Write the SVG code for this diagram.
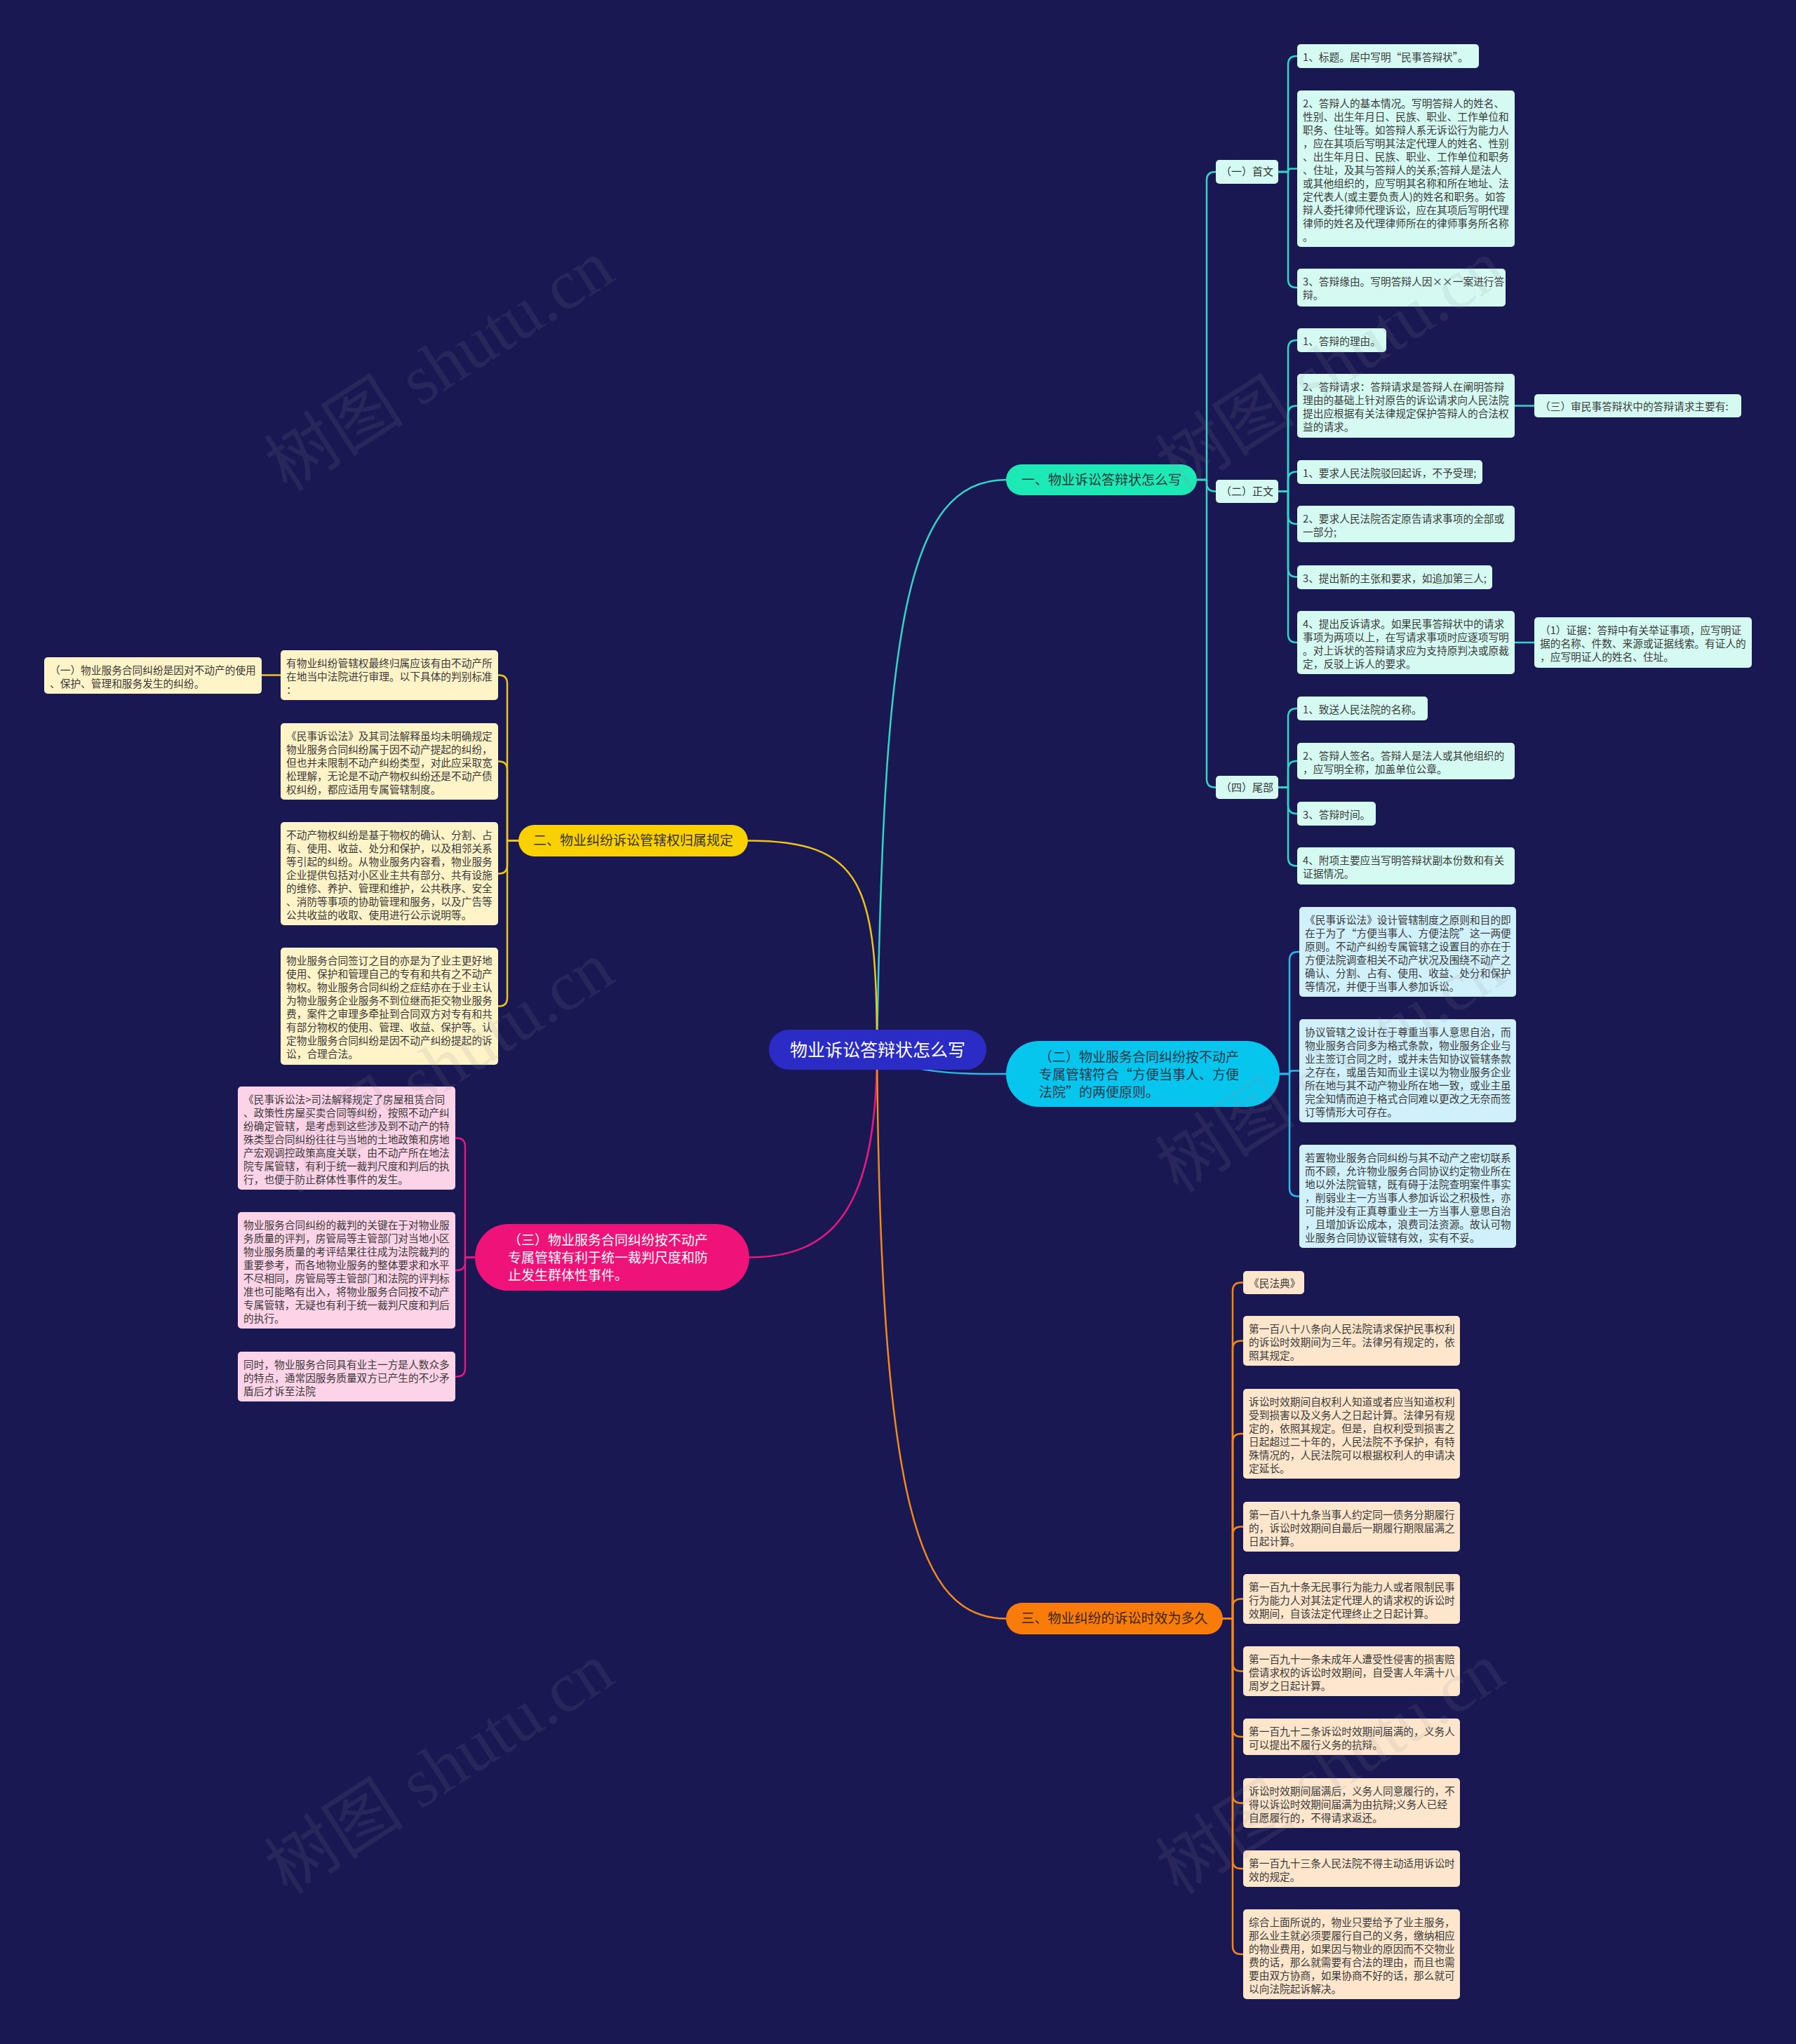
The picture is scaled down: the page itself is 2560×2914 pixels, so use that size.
<svg xmlns="http://www.w3.org/2000/svg" width="2560" height="2914" viewBox="0 0 2560 2914">
<style>
.t{font-family:"Noto Sans CJK SC","Noto Sans",sans-serif;font-size:14.7px;fill:#3a3a3a}
.sn{font-family:"Noto Sans CJK SC","Noto Sans",sans-serif;font-size:15px;fill:#333;text-anchor:middle}
.mn{font-family:"Noto Sans CJK SC","Noto Sans",sans-serif;font-size:19px}
.lt{fill:#d4faf1}.lc{fill:#d0f1fb}.ly{fill:#fff3c8}.lp{fill:#fdd3e7}.lo{fill:#fde6cc}
.k{fill:none;stroke-width:2.5;stroke-linecap:round;stroke-linejoin:round}
.kt{stroke:#35d4c8}.kc{stroke:#2cb6ea}.ky{stroke:#ecc41c}.kp{stroke:#e2197f}.ko{stroke:#f0891e}
.wm{font-family:"Liberation Serif","Noto Sans CJK SC",serif;font-size:100px;fill:#8a8a9a;opacity:0.12;text-anchor:middle}
</style>
<rect x="0" y="0" width="2560" height="2914" fill="#1a1852"/>
<g id="connectors">
<path class="k kt" stroke-width="3" d="M1250,1496 C1260,900 1290,684 1434,684"/>
<path class="k ky" stroke-width="3" d="M1250,1496 C1250,1260 1230,1198.5 1066,1198.5"/>
<path class="k kc" stroke-width="3" d="M1250,1496 C1290,1531 1360,1531 1434,1531"/>
<path class="k kp" stroke-width="3" d="M1250,1496 C1250,1720 1190,1792.5 1068,1792.5"/>
<path class="k ko" stroke-width="3" d="M1250,1496 C1255,2150 1310,2307.5 1434,2307.5"/>
<path class="k kt" d="M1706,684 H1720 V257 Q1720,245 1732,245 H1733"/>
<path class="k kt" d="M1706,684 H1720 V688.5 Q1720,700.5 1732,700.5 H1733"/>
<path class="k kt" d="M1706,684 H1720 V1110.5 Q1720,1122.5 1732,1122.5 H1733"/>
<path class="k kt" d="M1822,245 H1836 V92 Q1836,80 1848,80 H1849"/>
<path class="k kt" d="M1822,245 H1836 Q1836,240.5 1840.5,240.5 H1849"/>
<path class="k kt" d="M1822,245 H1836 V398 Q1836,410 1848,410 H1849"/>
<path class="k kt" d="M1822,700.5 H1836 V497 Q1836,485 1848,485 H1849"/>
<path class="k kt" d="M1822,700.5 H1836 V590.5 Q1836,578.5 1848,578.5 H1849"/>
<path class="k kt" d="M1822,700.5 H1836 V684.5 Q1836,672.5 1848,672.5 H1849"/>
<path class="k kt" d="M1822,700.5 H1836 V735 Q1836,747 1848,747 H1849"/>
<path class="k kt" d="M1822,700.5 H1836 V810.5 Q1836,822.5 1848,822.5 H1849"/>
<path class="k kt" d="M1822,700.5 H1836 V904 Q1836,916 1848,916 H1849"/>
<path class="k kt" d="M1822,1122.5 H1836 V1022 Q1836,1010 1848,1010 H1849"/>
<path class="k kt" d="M1822,1122.5 H1836 V1097 Q1836,1085 1848,1085 H1849"/>
<path class="k kt" d="M1822,1122.5 H1836 V1148 Q1836,1160 1848,1160 H1849"/>
<path class="k kt" d="M1822,1122.5 H1836 V1222.5 Q1836,1234.5 1848,1234.5 H1849"/>
<path class="k kt" d="M2159,578.5 H2187"/>
<path class="k kt" d="M2159,916 H2187"/>
<path class="k kc" d="M1824,1531 H1838 V1369 Q1838,1357 1850,1357 H1852"/>
<path class="k kc" d="M1824,1531 H1838 Q1838,1526.5 1842.5,1526.5 H1852"/>
<path class="k kc" d="M1824,1531 H1838 V1693.5 Q1838,1705.5 1850,1705.5 H1852"/>
<path class="k ky" d="M739,1198.5 H723 V974.5 Q723,962.5 711,962.5 H710"/>
<path class="k ky" d="M739,1198.5 H723 V1097.5 Q723,1085.5 711,1085.5 H710"/>
<path class="k ky" d="M739,1198.5 H723 V1233.5 Q723,1245.5 711,1245.5 H710"/>
<path class="k ky" d="M739,1198.5 H723 V1422.5 Q723,1434.5 711,1434.5 H710"/>
<path class="k ky" d="M400,962.5 H373"/>
<path class="k kp" d="M677,1792.5 H663 V1634.5 Q663,1622.5 651,1622.5 H649"/>
<path class="k kp" d="M677,1792.5 H663 V1799 Q663,1811 651,1811 H649"/>
<path class="k kp" d="M677,1792.5 H663 V1950.5 Q663,1962.5 651,1962.5 H649"/>
<path class="k ko" d="M1743,2307.5 H1757 V1840.5 Q1757,1828.5 1769,1828.5 H1772"/>
<path class="k ko" d="M1743,2307.5 H1757 V1923.5 Q1757,1911.5 1769,1911.5 H1772"/>
<path class="k ko" d="M1743,2307.5 H1757 V2056 Q1757,2044 1769,2044 H1772"/>
<path class="k ko" d="M1743,2307.5 H1757 V2188.5 Q1757,2176.5 1769,2176.5 H1772"/>
<path class="k ko" d="M1743,2307.5 H1757 V2291.5 Q1757,2279.5 1769,2279.5 H1772"/>
<path class="k ko" d="M1743,2307.5 H1757 V2370.5 Q1757,2382.5 1769,2382.5 H1772"/>
<path class="k ko" d="M1743,2307.5 H1757 V2464 Q1757,2476 1769,2476 H1772"/>
<path class="k ko" d="M1743,2307.5 H1757 V2558.5 Q1757,2570.5 1769,2570.5 H1772"/>
<path class="k ko" d="M1743,2307.5 H1757 V2652 Q1757,2664 1769,2664 H1772"/>
<path class="k ko" d="M1743,2307.5 H1757 V2774 Q1757,2786 1769,2786 H1772"/>
</g>

<g id="center"><rect x="1096" y="1468" width="310" height="57" rx="28.5" fill="#2b2bc6"/><text class="mn" x="1251" y="1505.5" font-size="25" fill="#ffffff" text-anchor="middle" style="font-size:25px">物业诉讼答辩状怎么写</text></g>

<g id="b1"><rect x="1434" y="662" width="272" height="44" rx="22" fill="#1de9b6"/><text class="mn" x="1570" y="690.8" fill="#1f3a38" text-anchor="middle">一、物业诉讼答辩状怎么写</text></g>
<g id="b2"><rect x="739" y="1176" width="327" height="45" rx="22.5" fill="#f9d100"/><text class="mn" x="902.5" y="1205.3" fill="#3a3320" text-anchor="middle">二、物业纠纷诉讼管辖权归属规定</text></g>
<g id="b3"><rect x="1434" y="1484" width="390" height="94" rx="47" fill="#06c6ee"/><text class="mn" fill="#24384a"><tspan x="1481" y="1514">（二）物业服务合同纠纷按不动产</tspan><tspan x="1481" y="1539">专属管辖符合“方便当事人、方便</tspan><tspan x="1481" y="1564">法院”的两便原则。</tspan></text></g>
<g id="b4"><rect x="677" y="1745" width="391" height="95" rx="47.5" fill="#ee1279"/><text class="mn" fill="#ffffff"><tspan x="724" y="1775">（三）物业服务合同纠纷按不动产</tspan><tspan x="724" y="1800">专属管辖有利于统一裁判尺度和防</tspan><tspan x="724" y="1825">止发生群体性事件。</tspan></text></g>
<g id="b5"><rect x="1434" y="2285" width="309" height="45" rx="22.5" fill="#f97c0b"/><text class="mn" x="1588.5" y="2314.3" fill="#3a2414" text-anchor="middle">三、物业纠纷的诉讼时效为多久</text></g>

<g id="s1"><rect class="lt" x="1733" y="228" width="89" height="34" rx="5"/><text class="sn" x="1777.5" y="250.4">（一）首文</text></g>
<g id="s2"><rect class="lt" x="1733" y="684" width="89" height="33" rx="5"/><text class="sn" x="1777.5" y="705.9">（二）正文</text></g>
<g id="s3"><rect class="lt" x="1733" y="1106" width="89" height="33" rx="5"/><text class="sn" x="1777.5" y="1127.9">（四）尾部</text></g>

<g id="l1"><rect class="lt" x="1849" y="63" width="259" height="34" rx="5"/><text class="t" x="1857" y="86.5">1、标题。居中写明“民事答辩状”。</text></g>
<g id="l2"><rect class="lt" x="1849" y="129" width="310" height="223" rx="5"/><text class="t"><tspan x="1857" y="152.5">2、答辩人的基本情况。写明答辩人的姓名、</tspan><tspan x="1857" dy="19">性别、出生年月日、民族、职业、工作单位和</tspan><tspan x="1857" dy="19">职务、住址等。如答辩人系无诉讼行为能力人</tspan><tspan x="1857" dy="19">，应在其项后写明其法定代理人的姓名、性别</tspan><tspan x="1857" dy="19">、出生年月日、民族、职业、工作单位和职务</tspan><tspan x="1857" dy="19">、住址，及其与答辩人的关系;答辩人是法人</tspan><tspan x="1857" dy="19">或其他组织的，应写明其名称和所在地址、法</tspan><tspan x="1857" dy="19">定代表人(或主要负责人)的姓名和职务。如答</tspan><tspan x="1857" dy="19">辩人委托律师代理诉讼，应在其项后写明代理</tspan><tspan x="1857" dy="19">律师的姓名及代理律师所在的律师事务所名称</tspan><tspan x="1857" dy="19">。</tspan></text></g>
<g id="l3"><rect class="lt" x="1849" y="383" width="297" height="54" rx="5"/><text class="t"><tspan x="1857" y="406.5">3、答辩缘由。写明答辩人因××一案进行答</tspan><tspan x="1857" dy="19">辩。</tspan></text></g>

<g id="z1"><rect class="lt" x="1849" y="468" width="127" height="34" rx="5"/><text class="t" x="1857" y="491.5">1、答辩的理由。</text></g>
<g id="z2"><rect class="lt" x="1849" y="533" width="310" height="91" rx="5"/><text class="t"><tspan x="1857" y="556.5">2、答辩请求：答辩请求是答辩人在阐明答辩</tspan><tspan x="1857" dy="19">理由的基础上针对原告的诉讼请求向人民法院</tspan><tspan x="1857" dy="19">提出应根据有关法律规定保护答辩人的合法权</tspan><tspan x="1857" dy="19">益的请求。</tspan></text></g>
<g id="z3"><rect class="lt" x="1849" y="656" width="264" height="34" rx="5"/><text class="t" x="1857" y="679.5">1、要求人民法院驳回起诉，不予受理;</text></g>
<g id="z4"><rect class="lt" x="1849" y="721" width="310" height="52" rx="5"/><text class="t"><tspan x="1857" y="744.5">2、要求人民法院否定原告请求事项的全部或</tspan><tspan x="1857" dy="19">一部分;</tspan></text></g>
<g id="z5"><rect class="lt" x="1849" y="806" width="278" height="34" rx="5"/><text class="t" x="1857" y="829.5">3、提出新的主张和要求，如追加第三人;</text></g>
<g id="z6"><rect class="lt" x="1849" y="871" width="310" height="90" rx="5"/><text class="t"><tspan x="1857" y="894.5">4、提出反诉请求。如果民事答辩状中的请求</tspan><tspan x="1857" dy="19">事项为两项以上，在写请求事项时应逐项写明</tspan><tspan x="1857" dy="19">。对上诉状的答辩请求应为支持原判决或原裁</tspan><tspan x="1857" dy="19">定，反驳上诉人的要求。</tspan></text></g>
<g id="r1"><rect class="lt" x="2187" y="562" width="295" height="33" rx="5"/><text class="t" x="2195" y="584.5">（三）审民事答辩状中的答辩请求主要有:</text></g>
<g id="r2"><rect class="lt" x="2187" y="880" width="310" height="72" rx="5"/><text class="t"><tspan x="2195" y="903.5">（1）证据：答辩中有关举证事项，应写明证</tspan><tspan x="2195" dy="19">据的名称、件数、来源或证据线索。有证人的</tspan><tspan x="2195" dy="19">，应写明证人的姓名、住址。</tspan></text></g>

<g id="w1"><rect class="lt" x="1849" y="993" width="186" height="34" rx="5"/><text class="t" x="1857" y="1016.5">1、致送人民法院的名称。</text></g>
<g id="w2"><rect class="lt" x="1849" y="1059" width="310" height="52" rx="5"/><text class="t"><tspan x="1857" y="1082.5">2、答辩人签名。答辩人是法人或其他组织的</tspan><tspan x="1857" dy="19">，应写明全称，加盖单位公章。</tspan></text></g>
<g id="w3"><rect class="lt" x="1849" y="1143" width="112" height="34" rx="5"/><text class="t" x="1857" y="1166.5">3、答辩时间。</text></g>
<g id="w4"><rect class="lt" x="1849" y="1208" width="310" height="53" rx="5"/><text class="t"><tspan x="1857" y="1231.5">4、附项主要应当写明答辩状副本份数和有关</tspan><tspan x="1857" dy="19">证据情况。</tspan></text></g>

<g id="c1"><rect class="lc" x="1852" y="1293" width="309" height="128" rx="5"/><text class="t"><tspan x="1860" y="1316.5">《民事诉讼法》设计管辖制度之原则和目的即</tspan><tspan x="1860" dy="19">在于为了“方便当事人、方便法院”这一两便</tspan><tspan x="1860" dy="19">原则。不动产纠纷专属管辖之设置目的亦在于</tspan><tspan x="1860" dy="19">方便法院调查相关不动产状况及围绕不动产之</tspan><tspan x="1860" dy="19">确认、分割、占有、使用、收益、处分和保护</tspan><tspan x="1860" dy="19">等情况，并便于当事人参加诉讼。</tspan></text></g>
<g id="c2"><rect class="lc" x="1852" y="1453" width="309" height="147" rx="5"/><text class="t"><tspan x="1860" y="1476.5">协议管辖之设计在于尊重当事人意思自治，而</tspan><tspan x="1860" dy="19">物业服务合同多为格式条款，物业服务企业与</tspan><tspan x="1860" dy="19">业主签订合同之时，或并未告知协议管辖条款</tspan><tspan x="1860" dy="19">之存在，或虽告知而业主误以为物业服务企业</tspan><tspan x="1860" dy="19">所在地与其不动产物业所在地一致，或业主虽</tspan><tspan x="1860" dy="19">完全知情而迫于格式合同难以更改之无奈而签</tspan><tspan x="1860" dy="19">订等情形大可存在。</tspan></text></g>
<g id="c3"><rect class="lc" x="1852" y="1632" width="309" height="147" rx="5"/><text class="t"><tspan x="1860" y="1655.5">若置物业服务合同纠纷与其不动产之密切联系</tspan><tspan x="1860" dy="19">而不顾，允许物业服务合同协议约定物业所在</tspan><tspan x="1860" dy="19">地以外法院管辖，既有碍于法院查明案件事实</tspan><tspan x="1860" dy="19">，削弱业主一方当事人参加诉讼之积极性，亦</tspan><tspan x="1860" dy="19">可能并没有正真尊重业主一方当事人意思自治</tspan><tspan x="1860" dy="19">，且增加诉讼成本，浪费司法资源。故认可物</tspan><tspan x="1860" dy="19">业服务合同协议管辖有效，实有不妥。</tspan></text></g>

<g id="y0"><rect class="ly" x="63" y="937" width="310" height="52" rx="5"/><text class="t"><tspan x="71" y="960.5">（一）物业服务合同纠纷是因对不动产的使用</tspan><tspan x="71" dy="19">、保护、管理和服务发生的纠纷。</tspan></text></g>
<g id="y1"><rect class="ly" x="400" y="927" width="310" height="71" rx="5"/><text class="t"><tspan x="408" y="950.5">有物业纠纷管辖权最终归属应该有由不动产所</tspan><tspan x="408" dy="19">在地当中法院进行审理。以下具体的判别标准</tspan><tspan x="408" dy="19">：</tspan></text></g>
<g id="y2"><rect class="ly" x="400" y="1031" width="310" height="109" rx="5"/><text class="t"><tspan x="408" y="1054.5">《民事诉讼法》及其司法解释虽均未明确规定</tspan><tspan x="408" dy="19">物业服务合同纠纷属于因不动产提起的纠纷，</tspan><tspan x="408" dy="19">但也并未限制不动产纠纷类型，对此应采取宽</tspan><tspan x="408" dy="19">松理解，无论是不动产物权纠纷还是不动产债</tspan><tspan x="408" dy="19">权纠纷，都应适用专属管辖制度。</tspan></text></g>
<g id="y3"><rect class="ly" x="400" y="1172" width="310" height="147" rx="5"/><text class="t"><tspan x="408" y="1195.5">不动产物权纠纷是基于物权的确认、分割、占</tspan><tspan x="408" dy="19">有、使用、收益、处分和保护，以及相邻关系</tspan><tspan x="408" dy="19">等引起的纠纷。从物业服务内容看，物业服务</tspan><tspan x="408" dy="19">企业提供包括对小区业主共有部分、共有设施</tspan><tspan x="408" dy="19">的维修、养护、管理和维护，公共秩序、安全</tspan><tspan x="408" dy="19">、消防等事项的协助管理和服务，以及广告等</tspan><tspan x="408" dy="19">公共收益的收取、使用进行公示说明等。</tspan></text></g>
<g id="y4"><rect class="ly" x="400" y="1351" width="310" height="167" rx="5"/><text class="t"><tspan x="408" y="1374.5">物业服务合同签订之目的亦是为了业主更好地</tspan><tspan x="408" dy="19">使用、保护和管理自己的专有和共有之不动产</tspan><tspan x="408" dy="19">物权。物业服务合同纠纷之症结亦在于业主认</tspan><tspan x="408" dy="19">为物业服务企业服务不到位继而拒交物业服务</tspan><tspan x="408" dy="19">费，案件之审理多牵扯到合同双方对专有和共</tspan><tspan x="408" dy="19">有部分物权的使用、管理、收益、保护等。认</tspan><tspan x="408" dy="19">定物业服务合同纠纷是因不动产纠纷提起的诉</tspan><tspan x="408" dy="19">讼，合理合法。</tspan></text></g>

<g id="p1"><rect class="lp" x="339" y="1549" width="310" height="147" rx="5"/><text class="t"><tspan x="347" y="1572.5">《民事诉讼法&gt;司法解释规定了房屋租赁合同</tspan><tspan x="347" dy="19">、政策性房屋买卖合同等纠纷，按照不动产纠</tspan><tspan x="347" dy="19">纷确定管辖，是考虑到这些涉及到不动产的特</tspan><tspan x="347" dy="19">殊类型合同纠纷往往与当地的土地政策和房地</tspan><tspan x="347" dy="19">产宏观调控政策高度关联，由不动产所在地法</tspan><tspan x="347" dy="19">院专属管辖，有利于统一裁判尺度和判后的执</tspan><tspan x="347" dy="19">行，也便于防止群体性事件的发生。</tspan></text></g>
<g id="p2"><rect class="lp" x="339" y="1728" width="310" height="166" rx="5"/><text class="t"><tspan x="347" y="1751.5">物业服务合同纠纷的裁判的关键在于对物业服</tspan><tspan x="347" dy="19">务质量的评判，房管局等主管部门对当地小区</tspan><tspan x="347" dy="19">物业服务质量的考评结果往往成为法院裁判的</tspan><tspan x="347" dy="19">重要参考，而各地物业服务的整体要求和水平</tspan><tspan x="347" dy="19">不尽相同，房管局等主管部门和法院的评判标</tspan><tspan x="347" dy="19">准也可能略有出入，将物业服务合同按不动产</tspan><tspan x="347" dy="19">专属管辖，无疑也有利于统一裁判尺度和判后</tspan><tspan x="347" dy="19">的执行。</tspan></text></g>
<g id="p3"><rect class="lp" x="339" y="1927" width="310" height="71" rx="5"/><text class="t"><tspan x="347" y="1950.5">同时，物业服务合同具有业主一方是人数众多</tspan><tspan x="347" dy="19">的特点，通常因服务质量双方已产生的不少矛</tspan><tspan x="347" dy="19">盾后才诉至法院</tspan></text></g>

<g id="o0"><rect class="lo" x="1772" y="1812" width="87" height="33" rx="5"/><text class="t" x="1780" y="1834.5">《民法典》</text></g>
<g id="o1"><rect class="lo" x="1772" y="1876" width="309" height="71" rx="5"/><text class="t"><tspan x="1780" y="1899.5">第一百八十八条向人民法院请求保护民事权利</tspan><tspan x="1780" dy="19">的诉讼时效期间为三年。法律另有规定的，依</tspan><tspan x="1780" dy="19">照其规定。</tspan></text></g>
<g id="o2"><rect class="lo" x="1772" y="1980" width="309" height="128" rx="5"/><text class="t"><tspan x="1780" y="2003.5">诉讼时效期间自权利人知道或者应当知道权利</tspan><tspan x="1780" dy="19">受到损害以及义务人之日起计算。法律另有规</tspan><tspan x="1780" dy="19">定的，依照其规定。但是，自权利受到损害之</tspan><tspan x="1780" dy="19">日起超过二十年的，人民法院不予保护，有特</tspan><tspan x="1780" dy="19">殊情况的，人民法院可以根据权利人的申请决</tspan><tspan x="1780" dy="19">定延长。</tspan></text></g>
<g id="o3"><rect class="lo" x="1772" y="2141" width="309" height="71" rx="5"/><text class="t"><tspan x="1780" y="2164.5">第一百八十九条当事人约定同一债务分期履行</tspan><tspan x="1780" dy="19">的，诉讼时效期间自最后一期履行期限届满之</tspan><tspan x="1780" dy="19">日起计算。</tspan></text></g>
<g id="o4"><rect class="lo" x="1772" y="2244" width="309" height="71" rx="5"/><text class="t"><tspan x="1780" y="2267.5">第一百九十条无民事行为能力人或者限制民事</tspan><tspan x="1780" dy="19">行为能力人对其法定代理人的请求权的诉讼时</tspan><tspan x="1780" dy="19">效期间，自该法定代理终止之日起计算。</tspan></text></g>
<g id="o5"><rect class="lo" x="1772" y="2347" width="309" height="71" rx="5"/><text class="t"><tspan x="1780" y="2370.5">第一百九十一条未成年人遭受性侵害的损害赔</tspan><tspan x="1780" dy="19">偿请求权的诉讼时效期间，自受害人年满十八</tspan><tspan x="1780" dy="19">周岁之日起计算。</tspan></text></g>
<g id="o6"><rect class="lo" x="1772" y="2450" width="309" height="52" rx="5"/><text class="t"><tspan x="1780" y="2473.5">第一百九十二条诉讼时效期间届满的，义务人</tspan><tspan x="1780" dy="19">可以提出不履行义务的抗辩。</tspan></text></g>
<g id="o7"><rect class="lo" x="1772" y="2535" width="309" height="71" rx="5"/><text class="t"><tspan x="1780" y="2558.5">诉讼时效期间届满后，义务人同意履行的，不</tspan><tspan x="1780" dy="19">得以诉讼时效期间届满为由抗辩;义务人已经</tspan><tspan x="1780" dy="19">自愿履行的，不得请求返还。</tspan></text></g>
<g id="o8"><rect class="lo" x="1772" y="2638" width="309" height="52" rx="5"/><text class="t"><tspan x="1780" y="2661.5">第一百九十三条人民法院不得主动适用诉讼时</tspan><tspan x="1780" dy="19">效的规定。</tspan></text></g>
<g id="o9"><rect class="lo" x="1772" y="2722" width="309" height="128" rx="5"/><text class="t"><tspan x="1780" y="2745.5">综合上面所说的，物业只要给予了业主服务，</tspan><tspan x="1780" dy="19">那么业主就必须要履行自己的义务，缴纳相应</tspan><tspan x="1780" dy="19">的物业费用，如果因与物业的原因而不交物业</tspan><tspan x="1780" dy="19">费的话，那么就需要有合法的理由，而且也需</tspan><tspan x="1780" dy="19">要由双方协商，如果协商不好的话，那么就可</tspan><tspan x="1780" dy="19">以向法院起诉解决。</tspan></text></g>

<g id="watermark">
<text class="wm" transform="translate(645,550) rotate(-33)">树图 shutu.cn</text>
<text class="wm" transform="translate(1915,550) rotate(-33)">树图 shutu.cn</text>
<text class="wm" transform="translate(645,1550) rotate(-33)">树图 shutu.cn</text>
<text class="wm" transform="translate(1915,1550) rotate(-33)">树图 shutu.cn</text>
<text class="wm" transform="translate(645,2550) rotate(-33)">树图 shutu.cn</text>
<text class="wm" transform="translate(1915,2550) rotate(-33)">树图 shutu.cn</text>
</g>
</svg>
